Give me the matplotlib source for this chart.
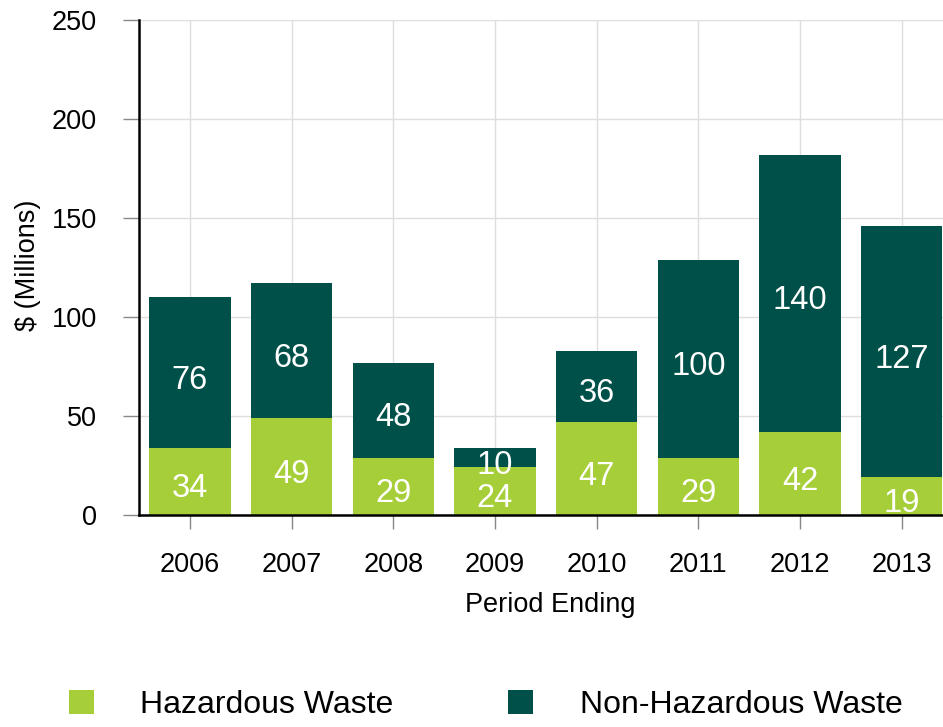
import matplotlib
matplotlib.use("Agg")
import matplotlib.pyplot as plt
import numpy as np

plt.rcParams['font.family'] = ['Liberation Sans', 'DejaVu Sans']

years = ["2006", "2007", "2008", "2009", "2010", "2011", "2012", "2013"]
hazardous = [34, 49, 29, 24, 47, 29, 42, 19]
non_hazardous = [76, 68, 48, 10, 36, 100, 140, 127]

light_green = "#a6ce39"
dark_teal = "#00504a"

fig = plt.figure(figsize=(9.43, 7.27), dpi=100)
ax = fig.add_axes([139 / 943, 1 - 515 / 727, 813.6 / 943, 495 / 727])

x = np.arange(len(years))
b1 = ax.bar(x, hazardous, width=0.8, color=light_green, label="Hazardous Waste", zorder=2)
b2 = ax.bar(x, non_hazardous, width=0.8, bottom=hazardous, color=dark_teal,
            label="Non-Hazardous Waste", zorder=2)

# value labels centred in each segment
for xi, h, n in zip(x, hazardous, non_hazardous):
    ax.annotate(str(h), (xi, h / 2), xytext=(0, -5.5), textcoords="offset points",
                ha="center", va="center", color="white", fontsize=23.5, zorder=3)
    ax.annotate(str(n), (xi, h + n / 2), xytext=(0, -5.5), textcoords="offset points",
                ha="center", va="center", color="white", fontsize=23.5, zorder=3)

ax.set_xlim(-0.5, len(years) - 0.5)
ax.set_ylim(0, 250)
ax.set_yticks(np.arange(0, 251, 50))
ax.set_xticks(x)
ax.set_xticklabels(years)

ax.grid(True, color="#dedede", linewidth=1, zorder=0)
ax.set_axisbelow(True)

for s in ("top", "right"):
    ax.spines[s].set_visible(False)
for s in ("left", "bottom"):
    ax.spines[s].set_color("black")
    ax.spines[s].set_linewidth(1.8)
    ax.spines[s].set_zorder(4)

ax.tick_params(axis="y", length=11.5, width=1, color="#888888", pad=19, labelsize=19.5)
ax.tick_params(axis="x", length=10, width=1, color="#888888", pad=17, labelsize=19.5)

ax.set_ylabel("$ (Millions)", fontsize=19.5, va="center")
ax.yaxis.set_label_coords(-0.136, 0.505)
ax.set_xlabel("Period Ending", fontsize=19.5, va="center")
ax.xaxis.set_label_coords(0.505, -0.182)

fig.legend(handles=[b1, b2], loc="center", bbox_to_anchor=(0.515, 0.030),
           ncol=2, frameon=False, fontsize=23, handlelength=0.78, handleheight=0.8,
           handletextpad=1.45, columnspacing=3.6)

fig.savefig("out.png", dpi=100)
